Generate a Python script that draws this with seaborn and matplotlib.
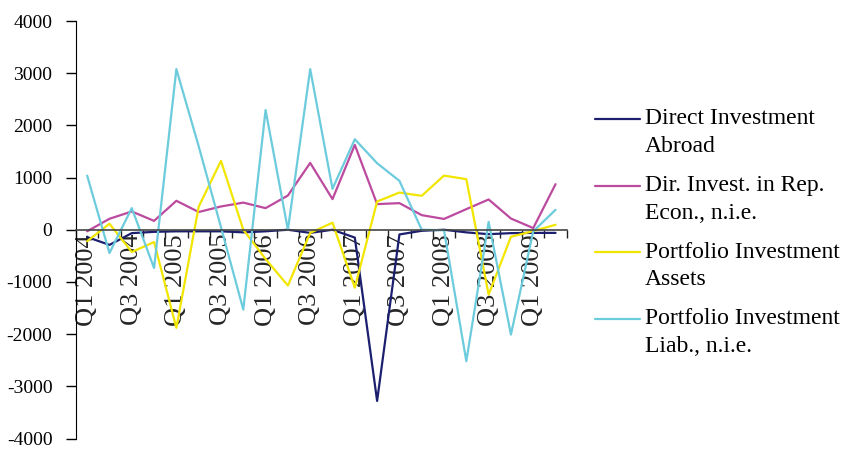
import numpy as np
import pandas as pd
import seaborn as sns
import matplotlib
matplotlib.use("Agg")
import matplotlib.pyplot as plt
from matplotlib.lines import Line2D
from matplotlib.ticker import FixedLocator, FixedFormatter, NullFormatter

# Quarterly flows, Q1 2004 – Q2 2009
quarters = [
    "Q1 2004", "Q2 2004", "Q3 2004", "Q4 2004",
    "Q1 2005", "Q2 2005", "Q3 2005", "Q4 2005",
    "Q1 2006", "Q2 2006", "Q3 2006", "Q4 2006",
    "Q1 2007", "Q2 2007", "Q3 2007", "Q4 2007",
    "Q1 2008", "Q2 2008", "Q3 2008", "Q4 2008",
    "Q1 2009", "Q2 2009",
]

direct_abroad = [-140, -290, -65, -40, -30, -30, -30, -50, -30, 0, -60, 0,
                 -150, -3280, -90, -20, 0, -50, -85, -65, -60, -60]
direct_in_rep = [-30, 210, 350, 170, 555, 340, 446, 520, 414, 656, 1281, 587,
                 1625, 491, 510, 280, 207, 395, 580, 215, 32, 873]
portfolio_assets = [-220, 115, -427, -236, -1880, 440, 1320, 0, -560, -1070, -60, 135,
                    -1110, 541, 713, 650, 1038, 969, -1243, -135, -25, 96]
portfolio_liab = [1038, -446, 415, -733, 3078, 1600, 50, -1530, 2294, 0, 3078, 784,
                  1734, 1275, 937, 0, -10, -2518, 150, -2008, -30, 382]

series_names = [
    "Direct Investment\nAbroad",
    "Dir. Invest. in Rep.\nEcon., n.i.e.",
    "Portfolio Investment\nAssets",
    "Portfolio Investment\nLiab., n.i.e.",
]
series_values = [direct_abroad, direct_in_rep, portfolio_assets, portfolio_liab]
series_colors = ["#1b1f6e", "#bc4a9e", "#f2e600", "#6ccbdc"]

y_ticks = [-4000, -3000, -2000, -1000, 0, 1000, 2000, 3000, 4000]
x_label_every = 2

frames = []
for name, vals in zip(series_names, series_values):
    frames.append(pd.DataFrame({"idx": np.arange(len(quarters)),
                                "value": vals, "series": name}))
df = pd.concat(frames, ignore_index=True)

sns.set_style("ticks")
plt.rcParams["font.family"] = ["Liberation Serif", "DejaVu Serif"]

W, H = 844, 449
fig = plt.figure(figsize=(W / 100, H / 100), dpi=100)
ax = fig.add_axes([76 / W, 1 - 438.5 / H, (566.7 - 76) / W, (438.5 - 21) / H])

sns.lineplot(data=df, x="idx", y="value", hue="series", hue_order=series_names,
             palette=series_colors, linewidth=1.6, ax=ax, legend=False)

n = len(quarters)
ax.set_xlim(-0.5, n - 0.5)
ax.set_ylim(y_ticks[0], y_ticks[-1])
ax.set_xlabel("")
ax.set_ylabel("")

# y axis
ax.set_yticks(y_ticks)
ax.set_yticklabels([str(v) for v in y_ticks])
ax.tick_params(axis="y", direction="out", length=7, width=1, pad=10,
               labelsize=14, colors="black")

# category axis drawn through zero
ax.spines["bottom"].set_position(("data", 0))
ax.spines["bottom"].set_color("#444444")
ax.spines["bottom"].set_linewidth(1.2)
ax.spines["left"].set_color("black")
ax.spines["top"].set_visible(False)
ax.spines["right"].set_visible(False)

label_pos = list(range(0, n, x_label_every))
ax.xaxis.set_major_locator(FixedLocator(label_pos))
ax.xaxis.set_major_formatter(FixedFormatter([quarters[i] for i in label_pos]))
ax.xaxis.set_minor_locator(FixedLocator(np.arange(-0.5, n, 1.0)))
ax.xaxis.set_minor_formatter(NullFormatter())
ax.tick_params(axis="x", which="major", length=0, pad=3, labelsize=19,
               labelrotation=90)
ax.tick_params(axis="x", which="minor", direction="out", length=6, width=1,
               color="#222222")

# legend: swatch beside the first line of each two-line label
legend_rows = [119, 186, 252, 319]
line_gap = 27.5
for name, color, yrow in zip(series_names, series_colors, legend_rows):
    fig.add_artist(Line2D([595 / W, 640 / W], [1 - yrow / H, 1 - yrow / H],
                          transform=fig.transFigure, color=color, linewidth=1.6))
    for k, part in enumerate(name.split("\n")):
        fig.text(645 / W, 1 - (yrow + k * line_gap) / H, part, fontsize=17,
                 ha="left", va="center", color="black")

fig.savefig("out.png", dpi=100)
